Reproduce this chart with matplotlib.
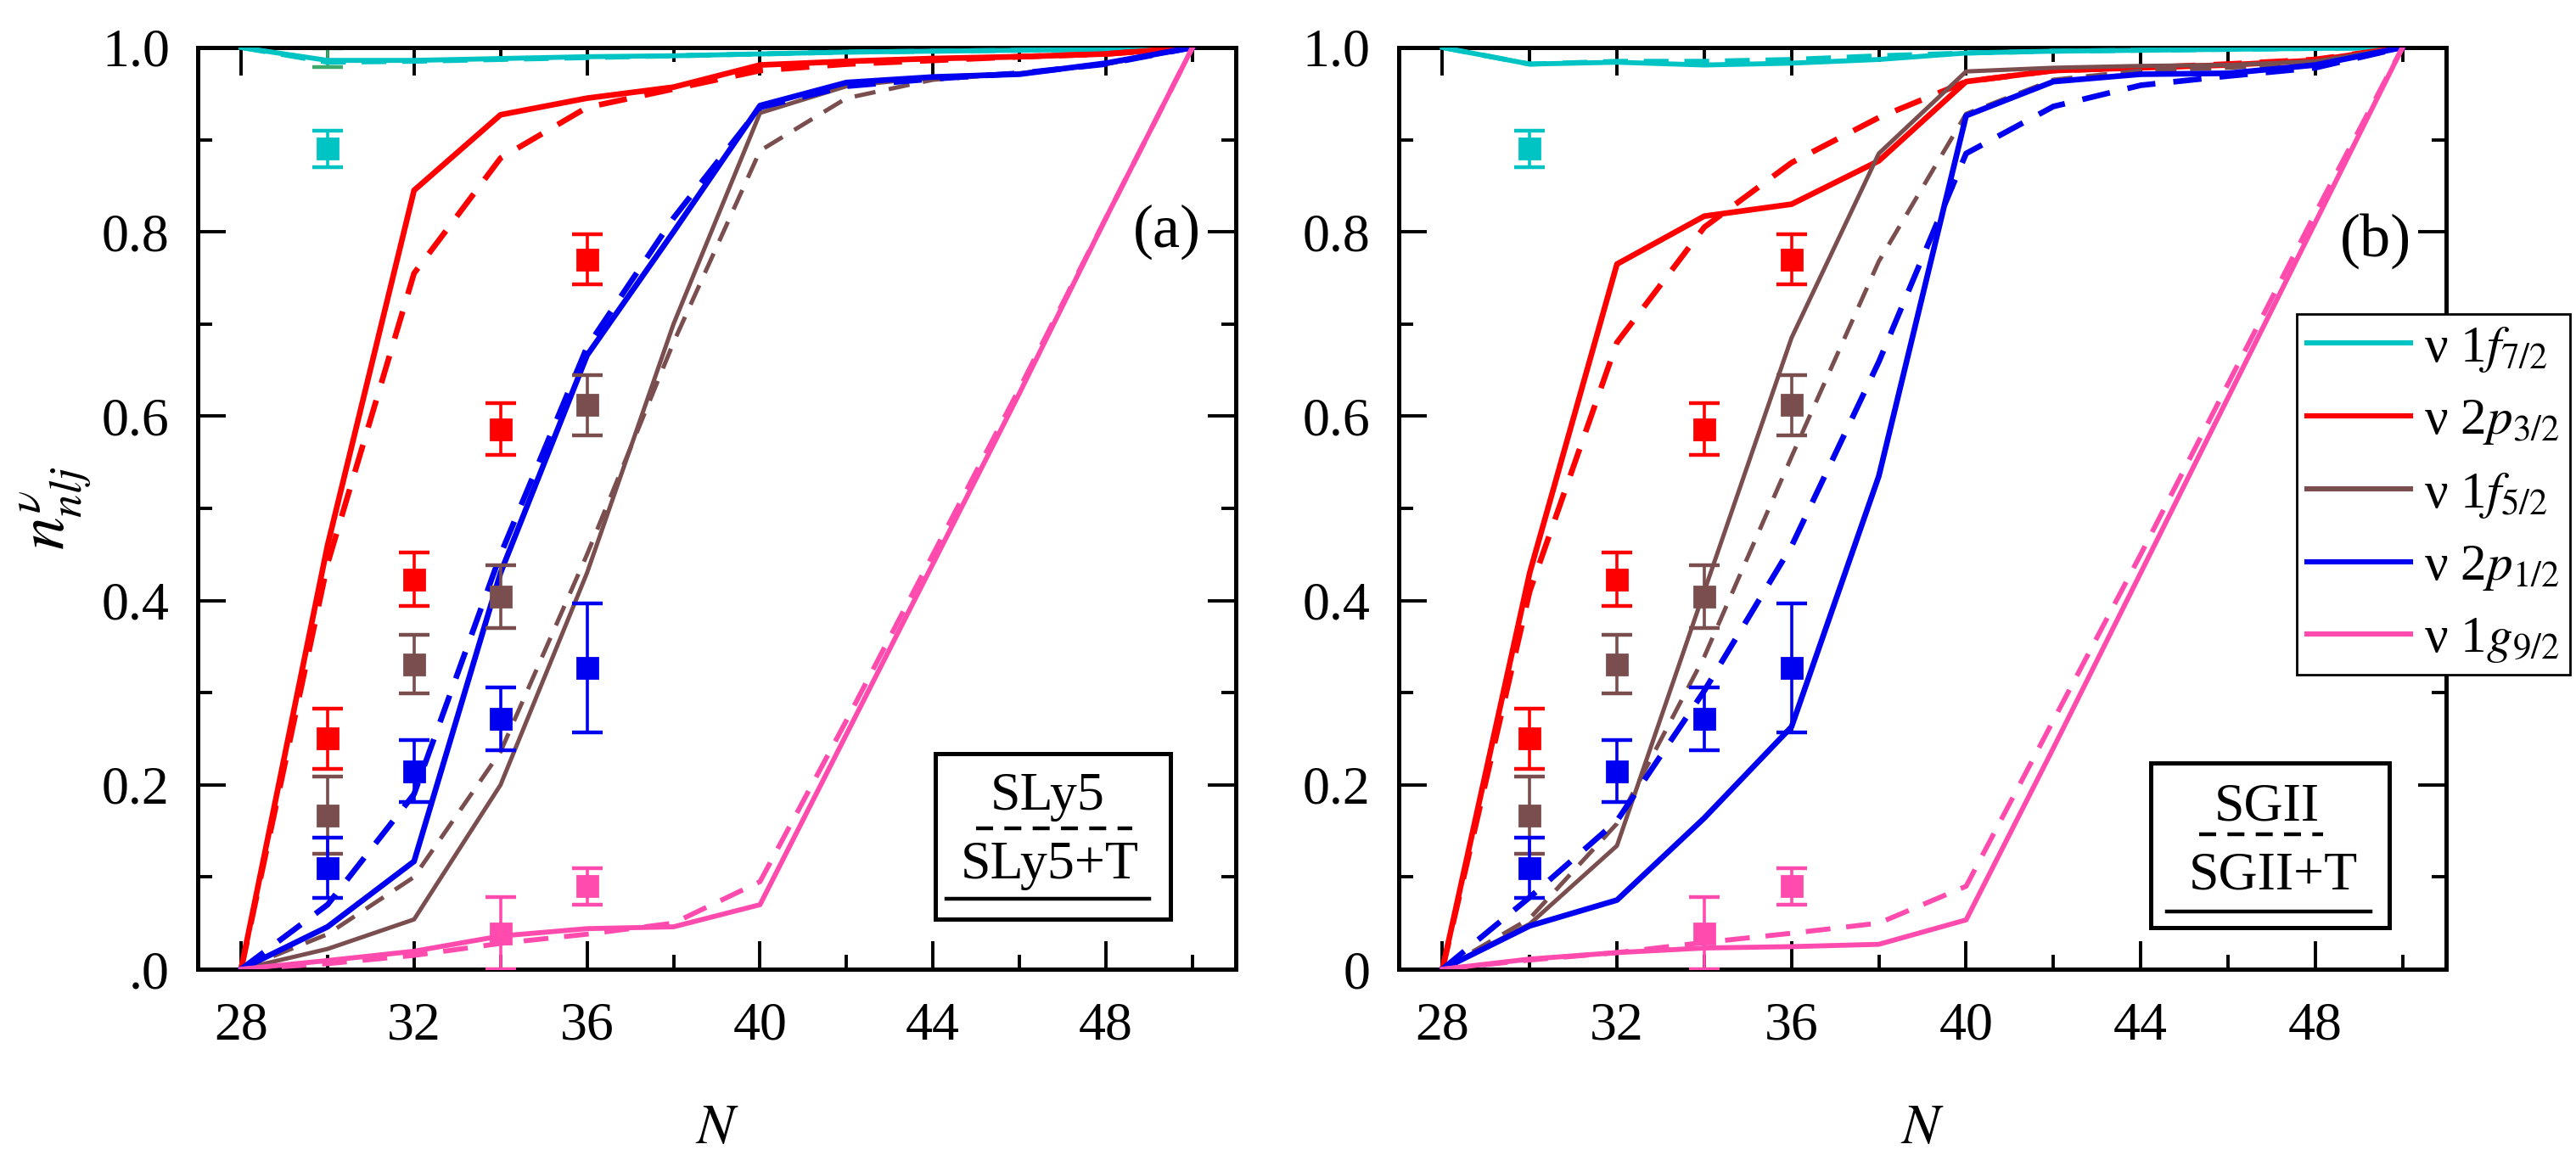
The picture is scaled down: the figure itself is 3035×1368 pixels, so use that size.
import matplotlib
matplotlib.use('Agg')
import matplotlib.pyplot as plt
from matplotlib.lines import Line2D
from matplotlib.patches import Rectangle
from matplotlib.ticker import MultipleLocator

plt.rcParams['font.family'] = ['Liberation Serif', 'DejaVu Serif']
plt.rcParams['mathtext.fontset'] = 'stix'

# neutron numbers of the calculations
N = [28, 30, 32, 34, 36, 38, 40, 42, 44, 46, 48, 50]

# (a) SLy5 (dashed) and SLy5+T (solid)
a_f72_T = [1.0, 0.986, 0.986, 0.988, 0.99, 0.991, 0.993, 0.995, 0.996, 0.997, 0.998, 1.0]
a_f72 = [1.0, 0.984, 0.985, 0.987, 0.989, 0.991, 0.993, 0.995, 0.996, 0.997, 0.998, 1.0]
a_p32_T = [0, 0.46, 0.845, 0.927, 0.945, 0.957, 0.981, 0.985, 0.988, 0.99, 0.993, 1.0]
a_p32 = [0, 0.44, 0.755, 0.88, 0.935, 0.955, 0.975, 0.982, 0.986, 0.99, 0.993, 1.0]
a_f52_T = [0, 0.022, 0.054, 0.2, 0.43, 0.70, 0.929, 0.958, 0.968, 0.972, 0.982, 1.0]
a_f52 = [0, 0.038, 0.10, 0.236, 0.45, 0.68, 0.888, 0.945, 0.965, 0.972, 0.982, 1.0]
a_p12_T = [0, 0.046, 0.117, 0.43, 0.666, 0.80, 0.937, 0.962, 0.968, 0.971, 0.983, 1.0]
a_p12 = [0, 0.07, 0.19, 0.45, 0.675, 0.815, 0.935, 0.958, 0.966, 0.972, 0.982, 1.0]
a_g92_T = [0, 0.0094, 0.0195, 0.036, 0.044, 0.046, 0.070, 0.255, 0.44, 0.625, 0.815, 1.0]
a_g92 = [0, 0.006, 0.015, 0.028, 0.038, 0.05, 0.095, 0.27, 0.45, 0.63, 0.815, 1.0]

# (b) SGII (dashed) and SGII+T (solid)
b_f72_T = [1.0, 0.982, 0.984, 0.981, 0.983, 0.987, 0.994, 0.996, 0.997, 0.998, 0.999, 1.0]
b_f72 = [1.0, 0.982, 0.985, 0.985, 0.987, 0.991, 0.994, 0.996, 0.997, 0.998, 0.999, 1.0]
b_p32_T = [0, 0.43, 0.765, 0.817, 0.83, 0.877, 0.963, 0.975, 0.978, 0.981, 0.986, 1.0]
b_p32 = [0, 0.41, 0.68, 0.805, 0.875, 0.924, 0.963, 0.975, 0.978, 0.982, 0.987, 1.0]
b_f52_T = [0, 0.049, 0.134, 0.41, 0.685, 0.885, 0.974, 0.978, 0.98, 0.981, 0.985, 1.0]
b_f52 = [0, 0.055, 0.158, 0.339, 0.556, 0.768, 0.928, 0.965, 0.975, 0.978, 0.983, 1.0]
b_p12_T = [0, 0.047, 0.075, 0.164, 0.263, 0.535, 0.926, 0.963, 0.971, 0.972, 0.981, 1.0]
b_p12 = [0, 0.078, 0.161, 0.302, 0.459, 0.659, 0.885, 0.936, 0.959, 0.969, 0.978, 1.0]
b_g92_T = [0, 0.011, 0.018, 0.023, 0.0245, 0.027, 0.0535, 0.24, 0.43, 0.62, 0.81, 1.0]
b_g92 = [0, 0.01, 0.018, 0.029, 0.039, 0.05, 0.09, 0.27, 0.45, 0.635, 0.82, 1.0]

# experimental occupancies
exp_N = [30, 32, 34, 36]
exp_f72_N = [30]
exp_f72 = [0.89]
exp_f72_err = [0.02]
exp_p32 = [0.25, 0.423, 0.586, 0.77]
exp_p32_err = [0.033, 0.029, 0.028, 0.027]
exp_f52 = [0.167, 0.331, 0.404, 0.612]
exp_f52_err = [0.042, 0.032, 0.034, 0.033]
exp_p12 = [0.11, 0.215, 0.272, 0.327]
exp_p12_err = [0.033, 0.034, 0.034, 0.07]
exp_g92_N = [34, 36]
exp_g92 = [0.039, 0.09]
exp_g92_err = [0.039, 0.02]
# stray green bar in panel (a)
green_N = [30]
green_v = [0.989]
green_err = [0.01]

orbit_labels = [r'ν 1$f_{7/2}$', r'ν 2$p_{3/2}$', r'ν 1$f_{5/2}$', r'ν 2$p_{1/2}$', r'ν 1$g_{9/2}$']
colors = ['#00C4C4', '#FF0000', '#7A4E4E', '#0000F0', '#FF4AAE']
widths = [2.1, 2.4, 1.8, 2.4, 2.1]

yticks = [0, 0.2, 0.4, 0.6, 0.8, 1.0]
a_ytick_labels = ['.0', '0.2', '0.4', '0.6', '0.8', '1.0']
b_ytick_labels = ['0', '0.2', '0.4', '0.6', '0.8', '1.0']

fig = plt.figure(figsize=(15.175, 6.84), dpi=200)
ax_a = fig.add_axes([0.0768, 0.1652, 0.4029, 0.7939])
ax_b = fig.add_axes([0.543, 0.1652, 0.4066, 0.7939])


def draw_panel(ax, solid, dashed, ylabels):
    for s, d, c, w in zip(solid, dashed, colors, widths):
        ax.plot(N, d, color=c, lw=w, dashes=(5, 3.2), zorder=3)
        ax.plot(N, s, color=c, lw=w, zorder=3)
    ebkw = dict(fmt='s', ms=8.5, capsize=6.5, elinewidth=1.3, capthick=1.6, zorder=4)
    ax.errorbar(exp_f72_N, exp_f72, yerr=exp_f72_err, color=colors[0], **ebkw)
    ax.errorbar(exp_N, exp_p32, yerr=exp_p32_err, color=colors[1], **ebkw)
    ax.errorbar(exp_N, exp_f52, yerr=exp_f52_err, color=colors[2], **ebkw)
    ax.errorbar(exp_N, exp_p12, yerr=exp_p12_err, color=colors[3], **ebkw)
    ax.errorbar(exp_g92_N, exp_g92, yerr=exp_g92_err, color=colors[4], **ebkw)

    ax.set_xlim(27, 51)
    ax.set_ylim(0, 1.0)
    ax.xaxis.set_major_locator(MultipleLocator(4))
    ax.xaxis.set_minor_locator(MultipleLocator(2))
    ax.yaxis.set_minor_locator(MultipleLocator(0.1))
    ax.set_yticks(yticks, ylabels)
    ax.tick_params(which='both', direction='in', top=True, right=True, width=1.4, labelsize=23)
    ax.tick_params(which='major', length=12)
    ax.tick_params(which='minor', length=6)
    ax.tick_params(axis='x', pad=14)
    ax.tick_params(axis='y', pad=12)
    for sp in ax.spines.values():
        sp.set_linewidth(1.8)
    ax.set_xlabel('$N$', fontsize=24, labelpad=22)


def draw_box(ax, x0, x1, y0, y1, top_txt, top_xy, dash_seg, bot_txt, bot_xy, solid_seg):
    ax.add_patch(Rectangle((x0, y0), x1 - x0, y1 - y0, fill=True, facecolor='white',
                           edgecolor='black', lw=1.8, zorder=5))
    ax.text(top_xy[0], top_xy[1], top_txt, fontsize=23, ha='center', va='center', zorder=6)
    ax.text(bot_xy[0], bot_xy[1], bot_txt, fontsize=23, ha='center', va='center', zorder=6)
    ax.plot(dash_seg[0], dash_seg[1], color='black', lw=1.6, dashes=(4.5, 3), zorder=6)
    ax.plot(solid_seg[0], solid_seg[1], color='black', lw=1.6, zorder=6)


draw_panel(ax_a, [a_f72_T, a_p32_T, a_f52_T, a_p12_T, a_g92_T],
           [a_f72, a_p32, a_f52, a_p12, a_g92], a_ytick_labels)
ax_a.errorbar(green_N, green_v, yerr=green_err, fmt='none', color='#3DAA6C',
              capsize=6.5, elinewidth=1.3, capthick=1.6, zorder=2)
draw_panel(ax_b, [b_f72_T, b_p32_T, b_f52_T, b_p12_T, b_g92_T],
           [b_f72, b_p32, b_f52, b_p12, b_g92], b_ytick_labels)

ax_a.set_ylabel(r'$n^{\nu}_{nlj}$', fontsize=28, labelpad=4)

ax_a.text(50.2, 0.8, '(a)', fontsize=26, ha='right', va='center')
ax_b.text(50.2, 0.79, '(b)', fontsize=26, ha='right', va='center')

draw_box(ax_a, 44.05, 49.5, 0.0547, 0.234, 'SLy5', (46.65, 0.187),
         ([45.0, 48.6], [0.153, 0.153]), 'SLy5+T', (46.7, 0.112),
         ([44.3, 49.0], [0.0765, 0.0765]))
draw_box(ax_b, 44.23, 49.7, 0.045, 0.224, 'SGII', (46.9, 0.175),
         ([45.34, 48.17], [0.146, 0.146]), 'SGII+T', (47.03, 0.1006),
         ([44.6, 49.26], [0.0627, 0.0627]))

handles = [Line2D([], [], color=c, lw=2.2) for c in colors]
leg = fig.legend(handles, orbit_labels, loc='upper left', bbox_to_anchor=(0.8916, 0.7298),
                 fontsize=22, frameon=True, fancybox=False, edgecolor='black', framealpha=1,
                 handlelength=2.0, handletextpad=0.25, borderpad=0.2, labelspacing=0.45,
                 borderaxespad=0)
leg.get_frame().set_linewidth(1.0)

fig.savefig('out.png', dpi=200)
